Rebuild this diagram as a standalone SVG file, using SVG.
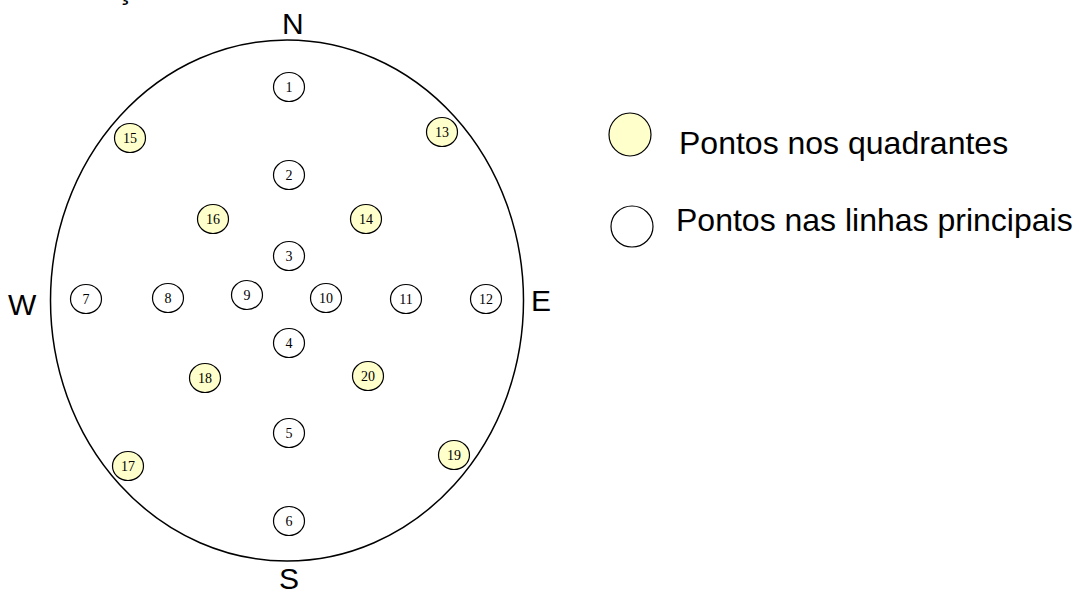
<svg xmlns="http://www.w3.org/2000/svg" width="1074" height="597" viewBox="0 0 1074 597">
<style>
.pt{stroke:#000;stroke-width:1.2}
.q{fill:#ffffcc}
.l{fill:#fff}
.num{font-family:"Liberation Serif",serif;font-size:14px;text-anchor:middle;fill:#000}
.big{font-family:"Liberation Sans",Arial,sans-serif;font-size:30px;fill:#000}
.leg{font-family:"Liberation Sans",Arial,sans-serif;font-size:32px;fill:#000}
</style>
<rect width="1074" height="597" fill="#fff"/>
<text class="big" x="117" y="-1">ç</text>
<g id="boundary">
<ellipse cx="287" cy="300.5" rx="236.5" ry="260.5" fill="none" stroke="#000" stroke-width="1.5"/>
</g>
<g id="labels">
<text class="big" x="282" y="34">N</text>
<text class="big" x="279" y="589">S</text>
<text class="big" x="8" y="315">W</text>
<text class="big" x="531" y="311">E</text>
</g>
<g id="connectors"></g>
<g id="n1"><ellipse class="pt l" cx="289" cy="87" rx="15.5" ry="14.5"/><text class="num" x="289" y="92">1</text></g>
<g id="n2"><ellipse class="pt l" cx="289" cy="175" rx="15.5" ry="14.5"/><text class="num" x="289" y="180">2</text></g>
<g id="n3"><ellipse class="pt l" cx="289" cy="256" rx="15.5" ry="14.5"/><text class="num" x="289" y="261">3</text></g>
<g id="n4"><ellipse class="pt l" cx="289" cy="343" rx="15.5" ry="14.5"/><text class="num" x="289" y="348">4</text></g>
<g id="n5"><ellipse class="pt l" cx="289" cy="433" rx="15.5" ry="14.5"/><text class="num" x="289" y="438">5</text></g>
<g id="n6"><ellipse class="pt l" cx="289" cy="521" rx="15.5" ry="14.5"/><text class="num" x="289" y="526">6</text></g>
<g id="n7"><ellipse class="pt l" cx="86" cy="299" rx="15.5" ry="14.5"/><text class="num" x="86" y="304">7</text></g>
<g id="n8"><ellipse class="pt l" cx="168" cy="298" rx="15.5" ry="14.5"/><text class="num" x="168" y="303">8</text></g>
<g id="n9"><ellipse class="pt l" cx="247" cy="295" rx="15.5" ry="14.5"/><text class="num" x="247" y="300">9</text></g>
<g id="n10"><ellipse class="pt l" cx="326" cy="298" rx="15.5" ry="14.5"/><text class="num" x="326" y="303">10</text></g>
<g id="n11"><ellipse class="pt l" cx="406" cy="299" rx="15.5" ry="14.5"/><text class="num" x="406" y="304">11</text></g>
<g id="n12"><ellipse class="pt l" cx="486" cy="299" rx="15.5" ry="14.5"/><text class="num" x="486" y="304">12</text></g>
<g id="n13"><ellipse class="pt q" cx="442" cy="132" rx="15.5" ry="14.5"/><text class="num" x="442" y="137">13</text></g>
<g id="n14"><ellipse class="pt q" cx="366" cy="219" rx="15.5" ry="14.5"/><text class="num" x="366" y="224">14</text></g>
<g id="n15"><ellipse class="pt q" cx="130" cy="138" rx="15.5" ry="14.5"/><text class="num" x="130" y="143">15</text></g>
<g id="n16"><ellipse class="pt q" cx="213" cy="219" rx="15.5" ry="14.5"/><text class="num" x="213" y="224">16</text></g>
<g id="n17"><ellipse class="pt q" cx="128" cy="466" rx="15.5" ry="14.5"/><text class="num" x="128" y="471">17</text></g>
<g id="n18"><ellipse class="pt q" cx="205" cy="378" rx="15.5" ry="14.5"/><text class="num" x="205" y="383">18</text></g>
<g id="n19"><ellipse class="pt q" cx="454" cy="455" rx="15.5" ry="14.5"/><text class="num" x="454" y="460">19</text></g>
<g id="n20"><ellipse class="pt q" cx="368" cy="376" rx="15.5" ry="14.5"/><text class="num" x="368" y="381">20</text></g>
<g id="legend-quadrantes"><ellipse class="pt q" cx="630" cy="134.5" rx="21" ry="21.5"/><text class="leg" x="679" y="154">Pontos nos quadrantes</text></g>
<g id="legend-linhas"><ellipse class="pt l" cx="632" cy="226.5" rx="21" ry="20.5"/><text class="leg" x="676" y="231">Pontos nas linhas principais</text></g>
</svg>
